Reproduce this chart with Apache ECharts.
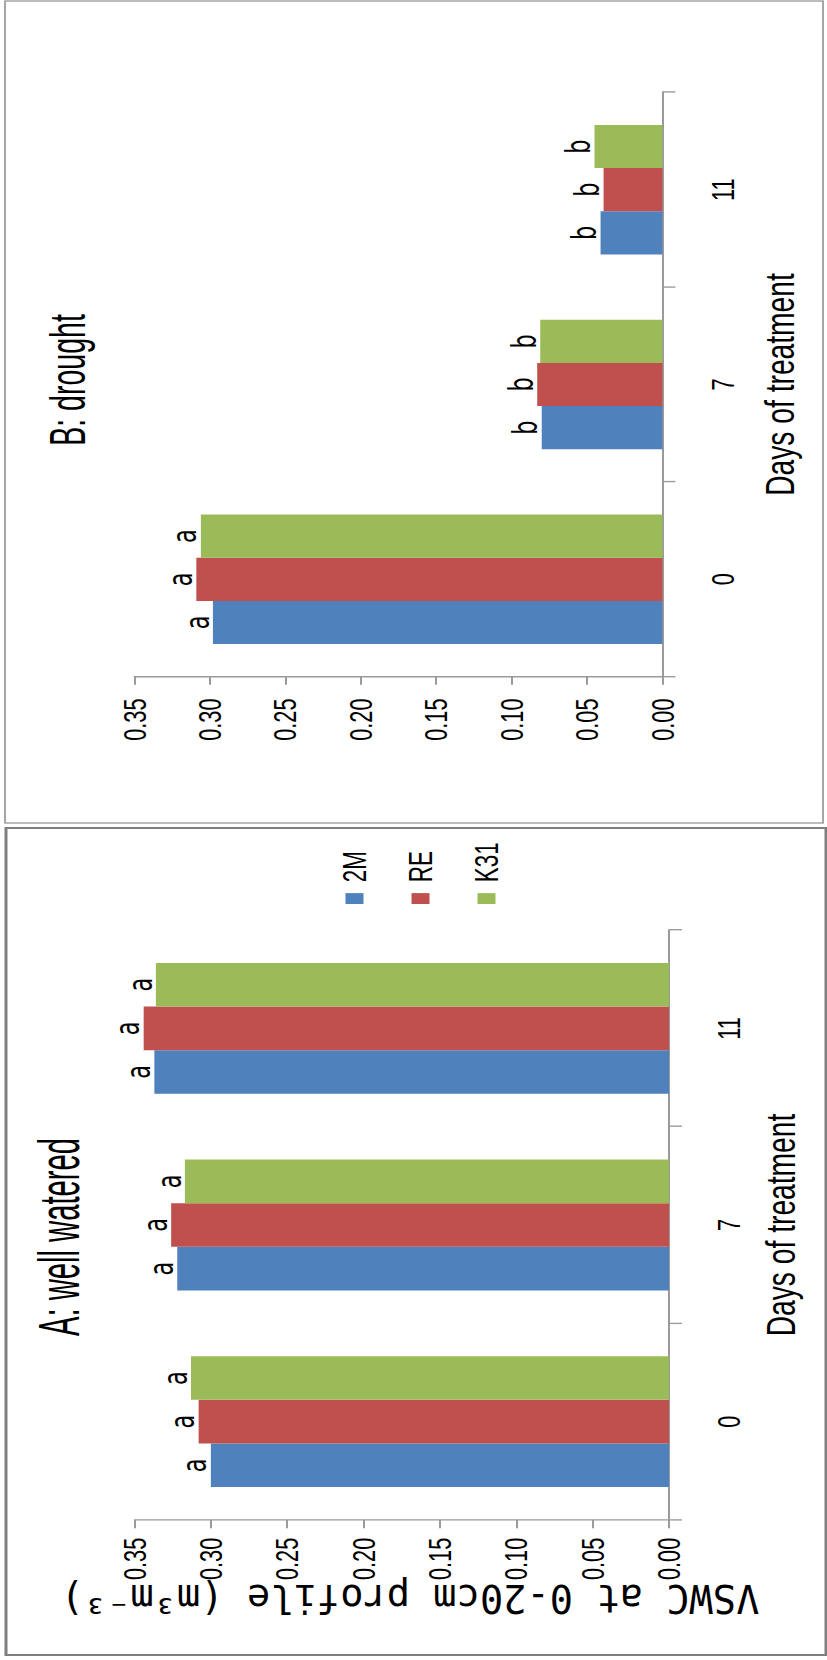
<!DOCTYPE html>
<html>
<head>
<meta charset="utf-8">
<script src="https://cdn.jsdelivr.net/npm/echarts@6/dist/echarts.min.js"></script>
<style>
  html, body { margin: 0; padding: 0; background: #ffffff; overflow: hidden; }
  body { width: 827px; height: 1660px; position: relative; }
  /* The figure is laid out landscape (squeezed horizontally), then turned a quarter turn. */
  #chart {
    position: absolute; left: 0; top: 0;
    width: 2442px; height: 827px;
    transform-origin: 0 0;
    transform: translate(0px, 1660px) rotate(-90deg) scale(0.68, 1);
  }
</style>
</head>
<body>
<div id="chart"></div>
<script>
// Days after the start of treatment
const days = ['0', '7', '11'];
const seriesNames = ['2M', 'RE', 'K31'];

// A: well watered, VSWC (m3 m-3)
const wellWatered2M  = [0.300, 0.322, 0.337];
const wellWateredRE  = [0.308, 0.326, 0.344];
const wellWateredK31 = [0.313, 0.317, 0.336];
const wellWateredLetters2M  = ['a', 'a', 'a'];
const wellWateredLettersRE  = ['a', 'a', 'a'];
const wellWateredLettersK31 = ['a', 'a', 'a'];

// B: drought, VSWC (m3 m-3)
const drought2M  = [0.298, 0.080, 0.041];
const droughtRE  = [0.309, 0.083, 0.039];
const droughtK31 = [0.306, 0.081, 0.045];
const droughtLetters2M  = ['a', 'b', 'b'];
const droughtLettersRE  = ['a', 'b', 'b'];
const droughtLettersK31 = ['a', 'b', 'b'];

// Value axis
const valueMin = 0;
const valueMax = 0.35;
const valueStep = 0.05;

const colors = ['#4F81BD', '#C0504D', '#9BBB59'];

// horizontal squeeze applied by the CSS transform
const SQ = 0.68;
const ux = X => X / SQ;

const sans = "'Liberation Sans', Arial, sans-serif";
const dejavu = "'DejaVu Sans', sans-serif";
const mono = "'DejaVu Sans Mono', 'Liberation Mono', monospace";
const axisGray = '#9a9a9a';

function valueAxis(gridIndex, labelMargin) {
  return {
    type: 'value', gridIndex: gridIndex,
    min: valueMin, max: valueMax, interval: valueStep,
    axisLine: { show: true, lineStyle: { color: axisGray, width: 2 } },
    axisTick: { show: true, length: 12, lineStyle: { color: axisGray, width: 2 } },
    splitLine: { show: false },
    axisLabel: {
      margin: labelMargin, color: '#000', fontSize: 32, fontFamily: sans,
      formatter: v => v.toFixed(2)
    }
  };
}

function categoryAxis(gridIndex, nameGap) {
  return {
    type: 'category', gridIndex: gridIndex, data: days,
    name: 'Days of treatment', nameLocation: 'middle', nameGap: nameGap,
    nameTextStyle: { color: '#000', fontSize: 41.5, fontFamily: sans },
    axisLine: { show: true, lineStyle: { color: axisGray, width: 2 } },
    axisTick: { show: true, length: 13, lineStyle: { color: axisGray, width: 2 } },
    axisLabel: { margin: 44, color: '#000', fontSize: 32, fontFamily: sans }
  };
}

function barSeries(name, values, letters, axisIndex, color) {
  return {
    type: 'bar', name: name, data: values,
    xAxisIndex: axisIndex, yAxisIndex: axisIndex,
    barGap: '0%', barCategoryGap: '33.5%',
    itemStyle: { color: color },
    label: {
      show: true, position: 'top', distance: -1,
      color: '#000', fontSize: 33, fontFamily: dejavu,
      formatter: p => letters[p.dataIndex]
    }
  };
}

const chart = echarts.init(document.getElementById('chart'), null, { renderer: 'svg', width: 2442, height: 827 });

chart.setOption({
  animation: false,
  backgroundColor: '#ffffff',
  grid: [
    { left: ux(140), top: 134.5, width: ux(730) - ux(140), height: 534.5 },
    { left: ux(983.3), top: 134.5, width: ux(1567.7) - ux(983.3), height: 527.9 }
  ],
  xAxis: [categoryAxis(0, 91), categoryAxis(1, 97)],
  yAxis: [valueAxis(0, 26), valueAxis(1, 32)],
  legend: {
    data: seriesNames, orient: 'vertical',
    left: ux(756), top: 338, itemWidth: 16, itemHeight: 18, itemGap: 33,
    icon: 'rect', padding: 0,
    textStyle: { color: '#000', fontSize: 33, fontFamily: sans, padding: [0, 0, 0, 11] }
  },
  series: [
    barSeries('2M',  wellWatered2M,  wellWateredLetters2M,  0, colors[0]),
    barSeries('RE',  wellWateredRE,  wellWateredLettersRE,  0, colors[1]),
    barSeries('K31', wellWateredK31, wellWateredLettersK31, 0, colors[2]),
    barSeries('2M',  drought2M,  droughtLetters2M,  1, colors[0]),
    barSeries('RE',  droughtRE,  droughtLettersRE,  1, colors[1]),
    barSeries('K31', droughtK31, droughtLettersK31, 1, colors[2])
  ],
  graphic: [
    // panel frames
    { type: 'rect', shape: { x: ux(5), y: 6, width: ux(832) - ux(5), height: 820 },
      style: { fill: 'none', stroke: '#7f7f7f', lineWidth: 3 }, z: 10 },
    { type: 'rect', shape: { x: ux(837), y: 5, width: ux(1659) - ux(837), height: 818 },
      style: { fill: 'none', stroke: '#a6a6a6', lineWidth: 2 }, z: 10 },
    // value-axis title of panel A, read bottom to top
    { type: 'text', x: ux(61.5), y: 410, rotation: Math.PI / 2, scaleY: 1.5, z: 10,
      style: { text: 'VSWC at 0-20cm profile (m\u00B3m\u207B\u00B3)', fill: '#000',
               font: '38.7px ' + mono, textAlign: 'center', textVerticalAlign: 'middle' } },
    // panel titles
    { type: 'text', x: ux(423), y: 59, scaleX: 0.74, z: 10,
      style: { text: 'A: well watered', fill: '#000', font: '58px ' + sans, textAlign: 'center', textVerticalAlign: 'middle' } },
    { type: 'text', x: ux(1280), y: 68, scaleX: 0.84, z: 10,
      style: { text: 'B: drought', fill: '#000', font: '50px ' + sans, textAlign: 'center', textVerticalAlign: 'middle' } }
  ]
});
</script>
</body>
</html>
